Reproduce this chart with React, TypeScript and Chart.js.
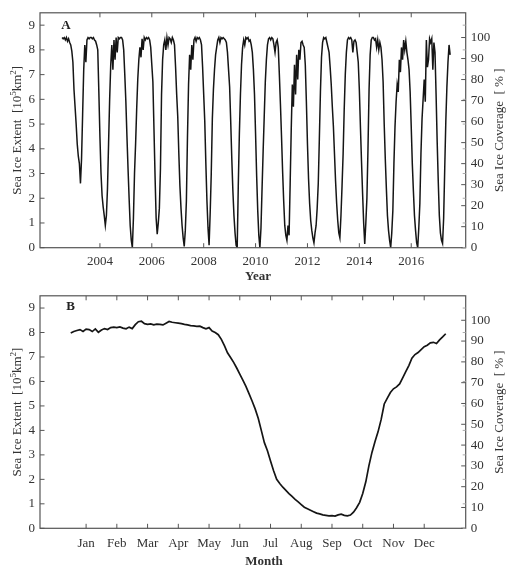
import React, { useEffect, useRef } from "react";
import { Chart, registerables } from "chart.js";
Chart.register(...registerables);

// ---------- Panel A: daily-ish sea ice extent time series (10^5 km^2) ----------
const seriesStartYear = 2002 + 13 / 24;
const seriesStepYear = 1 / 24;
const extentA: number[] = [
  // 2002.54 - 2003
  8.5, 8.45, 8.5, 8.4, 8.5, 8.35, 8.45, 8.3, 8.2, 7.95, 7.5, 6.4, 5.7, 5.0, 4.2, 3.7, 3.4,
  2.6,
  3.6, 5.4, 7.2, 8.2, 7.5, 8.4, 8.5, 8.45, 8.5, 8.5, 8.45, 8.5, 8.4, 8.35, 8.2, 8.0, 6.3, 4.5, 3.0, 2.1, 1.65, 1.3,
  0.9,
  1.3, 2.4, 4.2, 6.0, 7.4, 8.2, 7.2, 8.4, 7.6, 8.5, 7.9, 8.5, 8.45, 8.5, 8.5, 8.4, 8.0, 7.0, 5.9, 4.5, 3.2, 2.0, 0.9, 0.3,
  0,
  1.2, 3.0, 4.2, 5.6, 6.8, 7.6, 8.1, 7.7, 8.45, 8.0, 8.5, 8.4, 8.5, 8.45, 8.5, 8.4, 8.1, 7.4, 6.7, 4.8, 2.9, 1.2,
  0.55,
  1.0, 1.6, 3.2, 6.2, 7.6, 8.2, 8.4, 8.0, 8.5, 8.2, 8.5, 8.45, 8.3, 8.5, 8.4, 8.2, 7.3, 6.2, 5.3, 3.8, 2.5, 1.6, 0.9, 0.4,
  0.05,
  0.7, 1.9, 4.5, 6.6, 7.8, 7.2, 8.2, 7.6, 8.4, 8.5, 8.35, 8.5, 8.45, 8.5, 8.4, 8.2, 7.3, 6.2, 5.1, 3.4, 1.9, 0.8,
  0.1,
  1.4, 3.0, 5.2, 6.4, 7.2, 7.8, 8.1, 8.4, 8.5, 8.3, 8.5, 8.45, 8.5, 8.45, 8.4, 8.3, 7.9, 7.2, 6.5, 5.1, 3.6, 2.3, 1.3, 0.6,
  0.1, 0,
  2.5, 4.6, 6.2, 7.4, 8.1, 8.4, 8.2, 8.5, 8.45, 8.5, 8.35, 8.4, 8.2, 7.9, 7.2, 6.2, 4.6, 2.9, 1.5, 0.5,
  0,
  0.8, 2.4, 3.9, 5.3, 6.7, 7.6, 8.2, 8.45, 8.5, 8.4, 8.5, 8.45, 8.2, 7.9, 8.3, 8.4, 8.1, 7.0, 5.8, 4.5, 3.1, 1.9, 0.9, 0.5,
  0.3,
  0.9, 0.5, 2.6, 4.8, 6.6, 5.7, 7.4, 6.2, 7.8, 6.8, 8.0, 7.6, 8.3, 8.35, 8.2, 8.1, 7.4, 5.9, 4.2, 2.8, 1.8, 1.1, 0.7, 0.4,
  0.2,
  0.6, 0.9, 1.6, 2.6, 4.4, 6.3, 7.7, 8.3, 8.5, 8.45, 8.5, 8.3, 8.1, 7.9, 7.3, 6.6, 5.7, 4.9, 3.8, 2.7, 1.8, 1.1, 0.6,
  0.4,
  1.3, 2.5, 3.8, 5.6, 7.0, 7.9, 8.4, 8.5, 8.45, 8.5, 8.4, 7.9, 8.35, 8.4, 8.3, 7.9, 7.5, 6.4, 4.9, 3.5, 2.2, 1.0,
  0.15,
  1.0, 2.0, 4.0, 6.4, 7.8, 8.4, 8.5, 8.5, 8.4, 8.45, 8.1, 8.4, 8.0, 8.3, 8.1, 7.6, 6.7, 5.0, 3.6, 2.4, 1.3, 0.7, 0.3,
  0,
  0.6, 1.5, 3.4, 4.9, 5.9, 6.6, 6.3, 7.6, 7.1, 8.1, 7.6, 8.4, 8.0, 8.35, 7.9, 7.6, 7.2, 6.3, 4.9, 3.4, 2.3, 1.3, 0.7, 0.2,
  0,
  0.8, 1.8, 3.8, 5.2, 6.0, 6.8, 5.9, 8.4, 7.3, 7.6, 8.45, 8.3, 8.45, 7.2, 8.3, 7.9, 6.2, 4.3, 2.7, 1.3, 0.6, 0.3,
  0.17,
  1.2, 3.2, 5.1, 6.5, 7.5, 8.2, 7.8,
];
const yearTicks = [2004, 2006, 2008, 2010, 2012, 2014, 2016];
const yearMin = 2001.69;
const yearMax = 2018.1;

// ---------- Panel B: mean annual cycle ----------
const monthStart = 0.5;
const monthStep = 0.1;
const extentB: number[] = [
  7.98, 8.04, 8.08, 8.12, 8.04, 8.14, 8.12, 8.04, 8.15, 8.01,
  8.1, 8.16, 8.12, 8.2, 8.22, 8.2, 8.23, 8.18, 8.15, 8.22,
  8.16, 8.32, 8.44, 8.46, 8.36, 8.33, 8.35, 8.31, 8.34, 8.33,
  8.31, 8.38, 8.45, 8.42, 8.4, 8.38, 8.36, 8.33, 8.31, 8.28,
  8.27, 8.25, 8.26, 8.2, 8.15, 8.2, 8.06, 8.0, 7.91, 7.72,
  7.46, 7.17, 6.98, 6.78, 6.55, 6.3, 6.05, 5.8, 5.5, 5.2,
  4.88, 4.5, 4.0, 3.5, 3.17, 2.75, 2.35, 2.0, 1.83, 1.68,
  1.55, 1.42, 1.3, 1.18, 1.08, 0.97, 0.86, 0.8, 0.74, 0.68,
  0.62, 0.59, 0.55, 0.53, 0.51, 0.52, 0.5, 0.55, 0.58, 0.53,
  0.51, 0.54, 0.66, 0.84, 1.06, 1.42, 1.9, 2.55, 3.1, 3.55,
  3.95, 4.45, 5.08, 5.32, 5.55, 5.7, 5.78, 5.9, 6.15, 6.4,
  6.65, 6.95, 7.1, 7.18, 7.3, 7.42, 7.48, 7.58, 7.6, 7.55,
  7.7, 7.82, 7.95,
];
const monthLabels = ["Jan", "Feb", "Mar", "Apr", "May", "Jun", "Jul", "Aug", "Sep", "Oct", "Nov", "Dec"];
const monthTicks = [1, 2, 3, 4, 5, 6, 7, 8, 9, 10, 11, 12];
const monthMin = -0.5;
const monthMax = 13.35;

// ---------- shared axes ----------
const extentTicks = [0, 1, 2, 3, 4, 5, 6, 7, 8, 9];
const extentMax = 9.5;
const coverageTicks = [0, 10, 20, 30, 40, 50, 60, 70, 80, 90, 100];
const fullCoverageExtent = 8.5;
const coverageMax = (extentMax / fullCoverageExtent) * 100;

const FONT = '"Liberation Serif", "Times New Roman", serif';
const TEXT = "#333";
const AXIS = "#555";
const LINE = "#151515";

type Part = { t: string; size: number; rise: number };

function drawRich(ctx: CanvasRenderingContext2D, parts: Part[], cx: number, cy: number) {
  ctx.save();
  ctx.translate(cx, cy);
  ctx.rotate(-Math.PI / 2);
  ctx.textBaseline = "middle";
  ctx.textAlign = "left";
  ctx.fillStyle = TEXT;
  let total = 0;
  const widths = parts.map((p) => {
    ctx.font = `${p.size}px ${FONT}`;
    const w = ctx.measureText(p.t).width;
    total += w;
    return w;
  });
  let x = -total / 2;
  parts.forEach((p, i) => {
    ctx.font = `${p.size}px ${FONT}`;
    ctx.fillText(p.t, x, -p.rise);
    x += widths[i];
  });
  ctx.restore();
}

const leftTitle: Part[] = [
  { t: "Sea Ice Extent  [10", size: 13, rise: 0 },
  { t: "5", size: 9, rise: 4 },
  { t: "km", size: 13, rise: 0 },
  { t: "2", size: 9, rise: 4 },
  { t: "]", size: 13, rise: 0 },
];
const rightTitle: Part[] = [{ t: "Sea Ice Coverage  [ % ]", size: 13, rise: 0 }];

function makeDecor(letter: string, letterX: number, letterY: number, xTitle: string, xTitleX: number, xTitleY: number) {
  return {
    id: "decor",
    afterDraw(chart: any) {
      const { ctx, chartArea: a, scales } = chart;
      ctx.save();
      ctx.strokeStyle = AXIS;
      ctx.lineWidth = 1.2;
      ctx.strokeRect(a.left, a.top, a.right - a.left, a.bottom - a.top);
      const tl = 4.5;
      const seg = (x1: number, y1: number, x2: number, y2: number) => {
        ctx.beginPath();
        ctx.moveTo(x1, y1);
        ctx.lineTo(x2, y2);
        ctx.stroke();
      };
      ctx.lineWidth = 1;
      scales.x.ticks.forEach((t: any) => {
        const px = scales.x.getPixelForValue(t.value);
        seg(px, a.bottom, px, a.bottom - tl);
        seg(px, a.top, px, a.top + tl);
      });
      scales.y.ticks.forEach((t: any) => {
        const py = scales.y.getPixelForValue(t.value);
        seg(a.left, py, a.left + tl, py);
      });
      scales.y1.ticks.forEach((t: any) => {
        const py = scales.y1.getPixelForValue(t.value);
        seg(a.right, py, a.right - tl, py);
      });
      ctx.strokeStyle = "#aaa";
      scales.y.ticks.forEach((t: any) => {
        const py = scales.y.getPixelForValue(t.value);
        seg(a.right, py, a.right - 3, py);
      });
      // panel letter
      ctx.fillStyle = "#222";
      ctx.font = `bold 13px ${FONT}`;
      ctx.textAlign = "center";
      ctx.textBaseline = "middle";
      ctx.fillText(letter, letterX, letterY);
      // x title
      ctx.fillStyle = TEXT;
      ctx.font = `bold 13px ${FONT}`;
      ctx.fillText(xTitle, xTitleX, xTitleY);
      ctx.restore();
      const cy = (a.top + a.bottom) / 2;
      drawRich(ctx, leftTitle, 18, cy);
      drawRich(ctx, rightTitle, 500, cy);
    },
  };
}

function buildOptions(cfg: {
  xMin: number;
  xMax: number;
  xTicks: number[];
  xLabel: (v: number) => string;
  padTop: number;
  xHeight: number;
  xPad: number;
}) {
  const tickFont = { family: FONT, size: 13 };
  return {
    responsive: false,
    animation: false as const,
    layout: { padding: { top: cfg.padTop, left: 0, right: 0, bottom: 0 } },
    plugins: { legend: { display: false }, tooltip: { enabled: false } },
    scales: {
      x: {
        type: "linear" as const,
        min: cfg.xMin,
        max: cfg.xMax,
        grid: { display: false, drawTicks: false },
        border: { display: false },
        afterBuildTicks: (s: any) => {
          s.ticks = cfg.xTicks.map((v) => ({ value: v }));
        },
        afterFit: (s: any) => {
          s.height = cfg.xHeight;
        },
        ticks: {
          font: tickFont,
          color: TEXT,
          padding: cfg.xPad,
          maxRotation: 0,
          autoSkip: false,
          callback: (v: any) => cfg.xLabel(Number(v)),
        },
      },
      y: {
        type: "linear" as const,
        position: "left" as const,
        min: 0,
        max: extentMax,
        grid: { display: false, drawTicks: false },
        border: { display: false },
        afterBuildTicks: (s: any) => {
          s.ticks = extentTicks.map((v) => ({ value: v }));
        },
        afterFit: (s: any) => {
          s.width = 40;
        },
        ticks: { font: tickFont, color: TEXT, padding: 5, callback: (v: any) => String(v) },
      },
      y1: {
        type: "linear" as const,
        position: "right" as const,
        min: 0,
        max: coverageMax,
        grid: { display: false, drawTicks: false },
        border: { display: false },
        afterBuildTicks: (s: any) => {
          s.ticks = coverageTicks.map((v) => ({ value: v }));
        },
        afterFit: (s: any) => {
          s.width = 42.3;
        },
        ticks: { font: tickFont, color: TEXT, padding: 5, callback: (v: any) => String(v) },
      },
    },
  };
}

function PanelA() {
  const ref = useRef<HTMLCanvasElement>(null);
  useEffect(() => {
    const data = extentA.map((v, i) => ({ x: seriesStartYear + i * seriesStepYear, y: v }));
    const chart = new Chart(ref.current!, {
      type: "line",
      data: {
        datasets: [
          {
            data,
            borderColor: LINE,
            borderWidth: 1.5,
            pointRadius: 0,
            tension: 0,
            yAxisID: "y",
          },
        ],
      },
      options: buildOptions({
        xMin: yearMin,
        xMax: yearMax,
        xTicks: yearTicks,
        xLabel: (v) => String(v),
        padTop: 12,
        xHeight: 35.3,
        xPad: 6,
      }) as any,
      plugins: [makeDecor("A", 66, 26, "Year", 258, 277)],
    });
    return () => chart.destroy();
  }, []);
  return <canvas ref={ref} width={508} height={283} style={{ display: "block" }} />;
}

function PanelB() {
  const ref = useRef<HTMLCanvasElement>(null);
  useEffect(() => {
    const data = extentB.map((v, i) => ({ x: monthStart + i * monthStep, y: v }));
    const chart = new Chart(ref.current!, {
      type: "line",
      data: {
        datasets: [
          {
            data,
            borderColor: LINE,
            borderWidth: 1.7,
            pointRadius: 0,
            tension: 0,
            yAxisID: "y",
          },
        ],
      },
      options: buildOptions({
        xMin: monthMin,
        xMax: monthMax,
        xTicks: monthTicks,
        xLabel: (v) => monthLabels[v - 1] ?? "",
        padTop: 10.3,
        xHeight: 37.7,
        xPad: 7,
      }) as any,
      plugins: [makeDecor("B", 70.5, 23.7, "Month", 264, 279)],
    });
    return () => chart.destroy();
  }, []);
  return <canvas ref={ref} width={508} height={283} style={{ display: "block" }} />;
}

export default function App() {
  return (
    <div style={{ position: "fixed", left: 0, top: 0, width: 508, height: 566, background: "#fff" }}>
      <PanelA />
      <PanelB />
    </div>
  );
}
